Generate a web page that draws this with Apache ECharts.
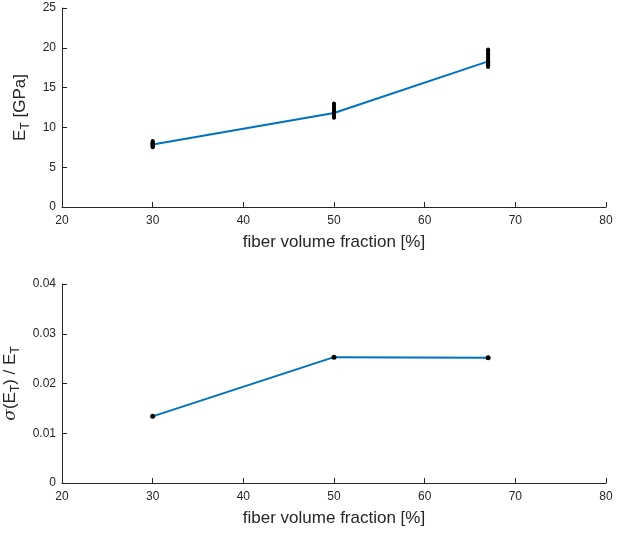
<!DOCTYPE html>
<html><head><meta charset="utf-8">
<script src="https://cdn.jsdelivr.net/npm/echarts@6/dist/echarts.min.js"></script>
<style>html,body{margin:0;padding:0;background:#fff}#c{width:633px;height:534px}</style>
</head><body><div id="c"></div>
<script>
// Data
const fractions = [30, 50, 67];
const meanET = [7.85, 11.8, 18.3];
const relStd = [0.0134, 0.0253, 0.0252];
// individual samples (GPa) at each fraction
const samples30 = [7.5, 7.6, 7.7, 7.75, 7.8, 7.85, 7.9, 7.95, 8.0, 8.1, 8.2, 8.3];
const samples50 = [11.2, 11.3, 11.4, 11.5, 11.6, 11.7, 11.8, 11.9, 12.0, 12.1, 12.2, 12.3, 12.45, 12.6, 12.8, 13.0];
const samples67 = [17.6, 17.7, 17.8, 17.9, 18.0, 18.1, 18.2, 18.3, 18.4, 18.5, 18.6, 18.8, 19.0, 19.2, 19.35, 19.5, 19.65, 19.8];
const xTicks = [20, 30, 40, 50, 60, 70, 80];

const scatterData = [];
samples30.forEach(v => scatterData.push([fractions[0], v]));
samples50.forEach(v => scatterData.push([fractions[1], v]));
samples67.forEach(v => scatterData.push([fractions[2], v]));

const axCol = '#262626';
const font = 'Liberation Sans, Arial, Helvetica, sans-serif';
function xAxis(idx) {
  return {
    gridIndex: idx, type: 'value', min: xTicks[0], max: xTicks[xTicks.length - 1], interval: 10,
    axisLine: {show: true, onZero: false, lineStyle: {color: axCol, width: 1}},
    axisTick: {show: true, inside: true, length: 5, lineStyle: {color: axCol}},
    axisLabel: {color: axCol, fontSize: 12, fontFamily: font, margin: 8},
    splitLine: {show: false},
    name: 'fiber volume fraction [%]', nameLocation: 'middle', nameGap: 27,
    nameTextStyle: {color: axCol, fontSize: 17, fontFamily: font}
  };
}
function yAxis(idx, min, max, interval, name, gap) {
  return {
    gridIndex: idx, type: 'value', min: min, max: max, interval: interval,
    axisLine: {show: true, lineStyle: {color: axCol, width: 1}},
    axisTick: {show: true, inside: true, length: 5, lineStyle: {color: axCol}},
    axisLabel: {color: axCol, fontSize: 12, fontFamily: font, margin: 6},
    splitLine: {show: false},
    name: name, nameLocation: 'middle', nameGap: gap,
    nameTextStyle: {color: axCol, fontSize: 17, fontFamily: font, rich: subRich}
  };
}
const subRich = {
  sub: {fontSize: 12, fontFamily: font, color: axCol, padding: [10, 0, 0, 0]},
  it: {fontSize: 17, fontFamily: 'DejaVu Serif, serif', fontStyle: 'italic', color: axCol},
  n: {fontSize: 17, fontFamily: font, color: axCol}
};
const chart = echarts.init(document.getElementById('c'), null, {renderer: 'canvas'});
chart.setOption({
  animation: false,
  backgroundColor: '#fff',
  grid: [
    {left: 62, right: 27, top: 8, height: 199, outerBoundsMode: 'none', containLabel: false},
    {left: 62, right: 27, top: 284, height: 199, outerBoundsMode: 'none', containLabel: false}
  ],
  xAxis: [xAxis(0), xAxis(1)],
  yAxis: [
    yAxis(0, 0, 25, 5, '{n|E}{sub|T}{n| [GPa]}', 27),
    yAxis(1, 0, 0.04, 0.01, '{it|σ}{n|(E}{sub|T}{n|) / E}{sub|T}', 33)
  ],
  series: [
    {type: 'scatter', xAxisIndex: 0, yAxisIndex: 0, data: scatterData, symbolSize: 4,
     itemStyle: {color: '#000', opacity: 1}, z: 3},
    {type: 'line', xAxisIndex: 0, yAxisIndex: 0, data: fractions.map((f, i) => [f, meanET[i]]),
     showSymbol: false, lineStyle: {color: '#0072BD', width: 2}, z: 2},
    {type: 'line', xAxisIndex: 1, yAxisIndex: 1, data: fractions.map((f, i) => [f, relStd[i]]),
     symbol: 'circle', symbolSize: 5, itemStyle: {color: '#000'},
     lineStyle: {color: '#0072BD', width: 2}}
  ]
});
</script></body></html>
